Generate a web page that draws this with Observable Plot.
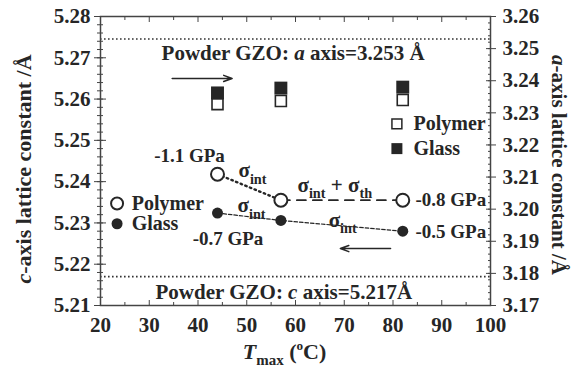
<!DOCTYPE html>
<html>
<head>
<meta charset="utf-8">
<script src="https://cdn.jsdelivr.net/npm/d3@7"></script>
<script src="https://cdn.jsdelivr.net/npm/@observablehq/plot@0.6"></script>
<style>
  html, body { margin: 0; padding: 0; background: white; }
</style>
</head>
<body>
<div id="chart"></div>
<script>
// ---- data ----
const temps = [44, 57, 82];
const cPolymer = [5.2418, 5.2355, 5.2355];
const cGlass = [5.2324, 5.2306, 5.2280];
const aPolymer = [3.2327, 3.2337, 3.2340];
const aGlass = [3.2362, 3.2377, 3.2380];
const powderA = 3.253;
const powderC = 5.217;
const xTicks = [20, 30, 40, 50, 60, 70, 80, 90, 100];
const xMinor = [25, 35, 45, 55, 65, 75, 85, 95];
const cTicks = [5.21, 5.22, 5.23, 5.24, 5.25, 5.26, 5.27, 5.28];
const aTicks = [3.17, 3.18, 3.19, 3.20, 3.21, 3.22, 3.23, 3.24, 3.25, 3.26];
const stressLabels = ["-1.1 GPa", "-0.8 GPa", "-0.7 GPa", "-0.5 GPa"];
const stressX = [31.0, 84.6, 38.9, 84.6];
const stressY = [5.2463, 5.2355, 5.2262, 5.2279];
const sigmaLabels = ["σ_{int}", "σ_{int} + σ_{th}", "σ_{int}", "σ_{int}"];
const sigmaX = [48.3, 60.4, 48.1, 66.8];
const sigmaY = [5.2427, 5.2391, 5.2342, 5.2306];
const powderLabels = ["Powder GZO: *a* axis=3.253 Å", "Powder GZO: *c* axis=5.217Å"];
const powderX = [59.5, 57.6];
const powderY = [5.2710, 5.21325];
const arrowX1 = [34.7, 79.5], arrowX2 = [47.0, 69.2];
const arrowY = [5.2650, 5.2238];

// right axis (a) shares the frame with the left axis (c)
const aToC = a => 5.21 + (a - 3.17) * (0.07 / 0.09);
const cToA = c => 3.17 + (c - 5.21) * (0.09 / 0.07);

const polyC = temps.map((x, i) => ({x, y: cPolymer[i]}));
const glassC = temps.map((x, i) => ({x, y: cGlass[i]}));
const polyA = temps.map((x, i) => ({x, y: aToC(aPolymer[i])}));
const glassA = temps.map((x, i) => ({x, y: aToC(aGlass[i])}));
const cMinor = d3.range(0, 36).map(i => 5.21 + i * 0.002);
const aMinor = d3.range(0, 46).map(i => aToC(3.17 + i * 0.002));
const aTickC = aTicks.map(aToC);
const arrows = arrowX1.map((x1, i) => ({x1, x2: arrowX2[i], y: arrowY[i]}));

const ink = "#262626";
const serif = "Liberation Serif";
const blank = () => "";
const lab = {fontFamily: serif, fontWeight: "bold", fontSize: 21, fill: ink, label: null};

const chart = Plot.plot({
  width: 571,
  height: 373,
  marginLeft: 100,
  marginRight: 81,
  marginTop: 16,
  marginBottom: 68,
  style: {fontFamily: serif, fontSize: "20px", fontWeight: "bold", color: ink, background: "white"},
  x: {domain: [20, 100]},
  y: {domain: [5.21, 5.28]},
  marks: [
    // reference lines
    Plot.ruleY([aToC(powderA), powderC], {stroke: "#333", strokeWidth: 1.6, strokeDasharray: "1.6,2.4"}),
    // bottom axis
    Plot.axisX({anchor: "bottom", ticks: xTicks, tickSize: 0, tickPadding: 12, ...lab}),
    Plot.axisX({anchor: "bottom", ticks: xTicks, tickSize: -5, tickFormat: blank, label: null, stroke: "#444"}),
    Plot.axisX({anchor: "bottom", ticks: xMinor, tickSize: -3, tickFormat: blank, label: null, stroke: "#444"}),
    Plot.axisX({anchor: "top", ticks: xTicks, tickSize: -5, tickFormat: blank, label: null, stroke: "#444"}),
    Plot.axisX({anchor: "top", ticks: xMinor, tickSize: -3, tickFormat: blank, label: null, stroke: "#444"}),
    // left axis
    Plot.axisY({anchor: "left", ticks: cTicks, tickSize: 0, tickPadding: 10, tickFormat: d => d.toFixed(2), ...lab}),
    Plot.axisY({anchor: "left", ticks: cTicks, tickSize: 6, tickFormat: blank, label: null, stroke: "#444"}),
    Plot.axisY({anchor: "left", ticks: cTicks, tickSize: -6, tickFormat: blank, label: null, stroke: "#444"}),
    Plot.axisY({anchor: "left", ticks: cMinor, tickSize: 3, tickFormat: blank, label: null, stroke: "#444"}),
    Plot.axisY({anchor: "left", ticks: cMinor, tickSize: -3, tickFormat: blank, label: null, stroke: "#444"}),
    // right axis
    Plot.axisY({anchor: "right", ticks: aTickC, tickSize: 0, tickPadding: 12, tickFormat: c => cToA(c).toFixed(2), ...lab}),
    Plot.axisY({anchor: "right", ticks: aTickC, tickSize: 5, tickFormat: blank, label: null, stroke: "#444"}),
    Plot.axisY({anchor: "right", ticks: aTickC, tickSize: -5, tickFormat: blank, label: null, stroke: "#444"}),
    Plot.axisY({anchor: "right", ticks: aMinor, tickSize: -3, tickFormat: blank, label: null, stroke: "#444"}),
    Plot.frame({stroke: "#444", strokeWidth: 1.5}),
    // axis titles
    Plot.text(["*c*-axis lattice constant /Å"], {frameAnchor: "left", textAnchor: "middle", dx: -77, dy: 8, rotate: -90, fontSize: 22, fill: ink}),
    Plot.text(["*a*-axis lattice constant /Å"], {frameAnchor: "right", textAnchor: "middle", dx: 68, dy: 4, rotate: 90, fontSize: 21, fill: ink}),
    Plot.text(["*T*_{max} (^{o}C)"], {frameAnchor: "bottom", textAnchor: "middle", dx: -11, dy: 53, fontSize: 22, fill: ink}),
    // lines
    Plot.line(glassC, {x: "x", y: "y", stroke: ink, strokeWidth: 1.2, strokeDasharray: "3.5,2"}),
    Plot.line(polyC.slice(0, 2), {x: "x", y: "y", stroke: ink, strokeWidth: 2.4, strokeDasharray: "1.5,3.5", strokeLinecap: "round"}),
    Plot.line(polyC.slice(1), {x: "x", y: "y", stroke: ink, strokeWidth: 1.8, strokeDasharray: "9,7"}),
    // c-axis markers
    Plot.dot(polyC, {x: "x", y: "y", r: 6.5, fill: "white", stroke: ink, strokeWidth: 2}),
    Plot.dot(glassC, {x: "x", y: "y", r: 5.5, fill: ink}),
    // a-axis markers
    Plot.dot(polyA, {x: "x", y: "y", symbol: "square", r: 6.2, fill: "white", stroke: ink, strokeWidth: 1.6}),
    Plot.dot(glassA, {x: "x", y: "y", symbol: "square", r: 7.3, fill: ink}),
    // legends
    Plot.dot([{x: 80.8, y: 5.2540}], {x: "x", y: "y", symbol: "square", r: 5.6, fill: "white", stroke: ink, strokeWidth: 1.5}),
    Plot.dot([{x: 80.8, y: 5.2480}], {x: "x", y: "y", symbol: "square", r: 6.2, fill: ink}),
    Plot.text(["Polymer", "Glass"], {x: [84.2, 84.2], y: [5.2540, 5.2480], textAnchor: "start", fontSize: 20, fill: ink}),
    Plot.dot([{x: 23.4, y: 5.2347}], {x: "x", y: "y", r: 6, fill: "white", stroke: ink, strokeWidth: 2}),
    Plot.dot([{x: 23.4, y: 5.2298}], {x: "x", y: "y", r: 5.5, fill: ink}),
    Plot.text(["Polymer", "Glass"], {x: [26.4, 26.4], y: [5.2347, 5.2298], textAnchor: "start", fontSize: 20, fill: ink}),
    // arrows
    Plot.arrow(arrows, {x1: "x1", x2: "x2", y1: "y", y2: "y", stroke: ink, strokeWidth: 1.5, headLength: 9, headAngle: 40}),
    // annotations
    Plot.text(powderLabels, {x: powderX, y: powderY, textAnchor: "middle", fontSize: 21, fill: ink}),
    Plot.text(stressLabels, {x: stressX, y: stressY, textAnchor: "start", fontSize: 19, fill: ink}),
    Plot.text(sigmaLabels, {x: sigmaX, y: sigmaY, textAnchor: "start", fontSize: 21, fill: ink})
  ]
});

document.getElementById("chart").append(chart);

// rich text: *italic*, _{sub}, ^{sup}
const svgns = "http://www.w3.org/2000/svg";
d3.select(chart).selectAll("text").each(function() {
  const t = this;
  const s = t.textContent;
  if (!/(\*[^*]+\*|_\{[^}]+\}|\^\{[^}]+\})/.test(s)) return;
  const fs = parseFloat(getComputedStyle(t).fontSize);
  const parts = s.split(/(\*[^*]+\*|_\{[^}]+\}|\^\{[^}]+\})/).filter(Boolean);
  t.textContent = "";
  let shift = 0;
  for (const p of parts) {
    const ts = document.createElementNS(svgns, "tspan");
    let txt = p, target = 0;
    if (p.startsWith("*")) { txt = p.slice(1, -1); ts.setAttribute("font-style", "italic"); }
    else if (p.startsWith("_{")) { txt = p.slice(2, -1); target = 0.3 * fs; ts.setAttribute("font-size", 0.68 * fs); }
    else if (p.startsWith("^{")) { txt = p.slice(2, -1); target = -0.4 * fs; ts.setAttribute("font-size", 0.6 * fs); }
    ts.setAttribute("dy", target - shift);
    shift = target;
    ts.textContent = txt;
    t.appendChild(ts);
  }
});
</script>
</body>
</html>
